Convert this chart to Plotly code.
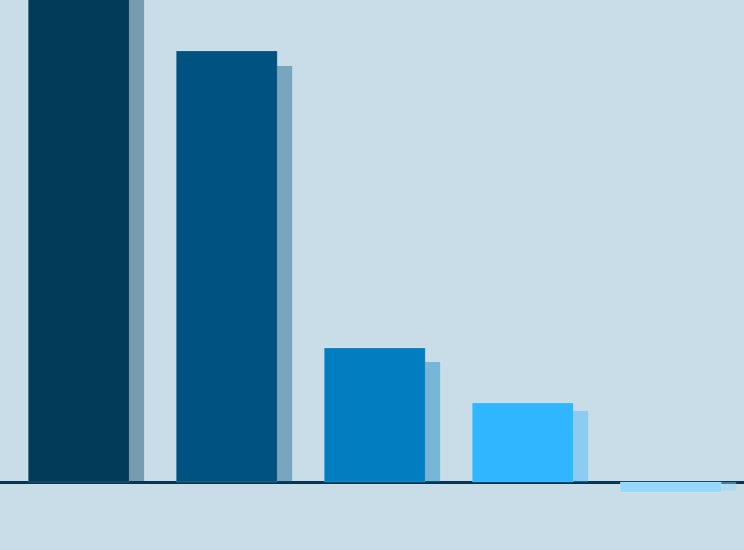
import plotly.graph_objects as go

categories = [0, 1, 2, 3, 4]
current = [60.0, 43.1, 13.4, 7.9, -1.0]
previous = [58.0, 41.6, 12.0, 7.1, -0.85]

front_colors = ["#023a5a", "#005381", "#007ec0", "#30b5ff", "#94d8fb"]
shadow_colors = ["rgba(2,58,90,0.4)", "rgba(0,83,129,0.4)", "rgba(0,126,192,0.4)",
                 "rgba(48,181,255,0.4)", "rgba(148,216,251,0.45)"]

bar_w = 0.682
shift = 0.101

fig = go.Figure()
fig.add_trace(go.Bar(
    x=categories, y=previous, width=bar_w, offset=-bar_w / 2 + shift,
    marker=dict(color=shadow_colors, line=dict(width=0)),
    hoverinfo="skip",
))
fig.add_trace(go.Bar(
    x=categories, y=current, width=bar_w, offset=-bar_w / 2,
    marker=dict(color=front_colors, line=dict(width=1, color="rgba(255,255,255,0.15)")),
))

fig.update_layout(
    width=744, height=550,
    margin=dict(l=0, r=0, t=0, b=0),
    paper_bgcolor="#c9dde8", plot_bgcolor="#c9dde8",
    barmode="overlay", showlegend=False,
    xaxis=dict(range=[-0.532, 4.495], visible=False, showgrid=False),
    yaxis=dict(range=[-6.8, 48.2], showgrid=False, showticklabels=False,
               zeroline=True, zerolinecolor="#0a3550", zerolinewidth=3,
               layer="above traces"),
)

# drop the browser's default page margin so the chart fills the window
fig.write_html(
    "out.html",
    config={"displayModeBar": False},
    post_script="document.body.style.margin='0';document.body.style.overflow='hidden';",
)
